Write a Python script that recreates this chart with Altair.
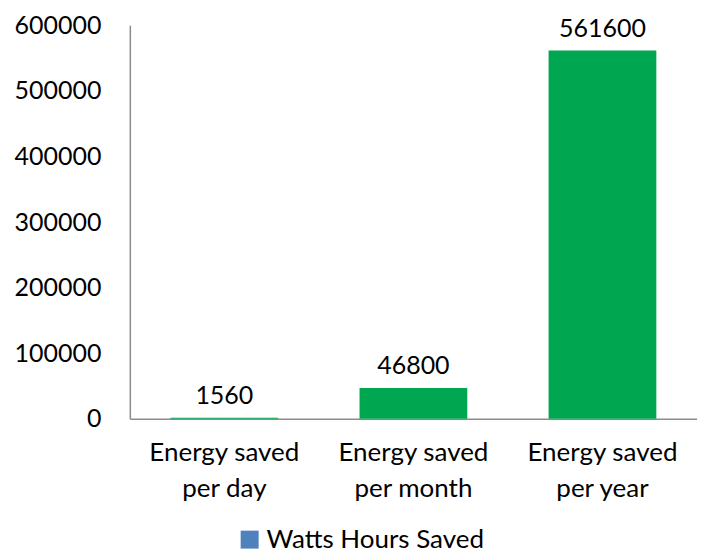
import altair as alt
import pandas as pd

categories = ["Energy saved|per day", "Energy saved|per month", "Energy saved|per year"]
values = [1560, 46800, 561600]
series = ["Watts Hours Saved"] * 3

df = pd.DataFrame({"cat": categories, "val": values, "series": series})

FONT = "Lato"

base = alt.Chart(df).encode(
    x=alt.X("cat:N", sort=categories, title=None,
            scale=alt.Scale(paddingInner=0.43, paddingOuter=0.215),
            axis=alt.Axis(labelExpr="split(datum.label, '|')", labelAngle=0,
                          labelFontSize=26, labelFont=FONT, labelColor="#000",
                          labelPadding=21, labelLineHeight=36, ticks=False,
                          labelLimit=0,
                          domainColor="#8c8c8c", domainWidth=1.5)),
    y=alt.Y("val:Q", title=None,
            scale=alt.Scale(domain=[0, 600000], nice=False),
            axis=alt.Axis(values=[0, 100000, 200000, 300000, 400000, 500000, 600000],
                          format="d", labelFontSize=25, labelFont=FONT, labelColor="#000",
                          labelPadding=29, ticks=False, grid=False,
                          domainColor="#8c8c8c", domainWidth=1.5)),
)

bars = base.mark_bar(fill="#00A650").encode(
    color=alt.Color("series:N", title=None,
                    scale=alt.Scale(domain=["Watts Hours Saved"], range=["#4F81BD"]),
                    legend=alt.Legend(orient="none", legendX=107, legendY=502,
                                      direction="horizontal",
                                      symbolType="square", symbolSize=324,
                                      labelFontSize=26, labelFont=FONT, labelColor="#000",
                                      labelLimit=0, padding=0,
                                      symbolStrokeWidth=0))
)

labels = base.mark_text(dy=-22, fontSize=25, font=FONT, color="#000").encode(
    text=alt.Text("val:Q", format="d")
)

chart = alt.layer(bars, labels).properties(
    width=568, height=394,
    padding={"top": 5, "left": 5, "right": 0, "bottom": 0},
    background="white",
).configure_view(stroke=None)

chart.save("out.html", embed_options={"renderer": "svg", "actions": False})
